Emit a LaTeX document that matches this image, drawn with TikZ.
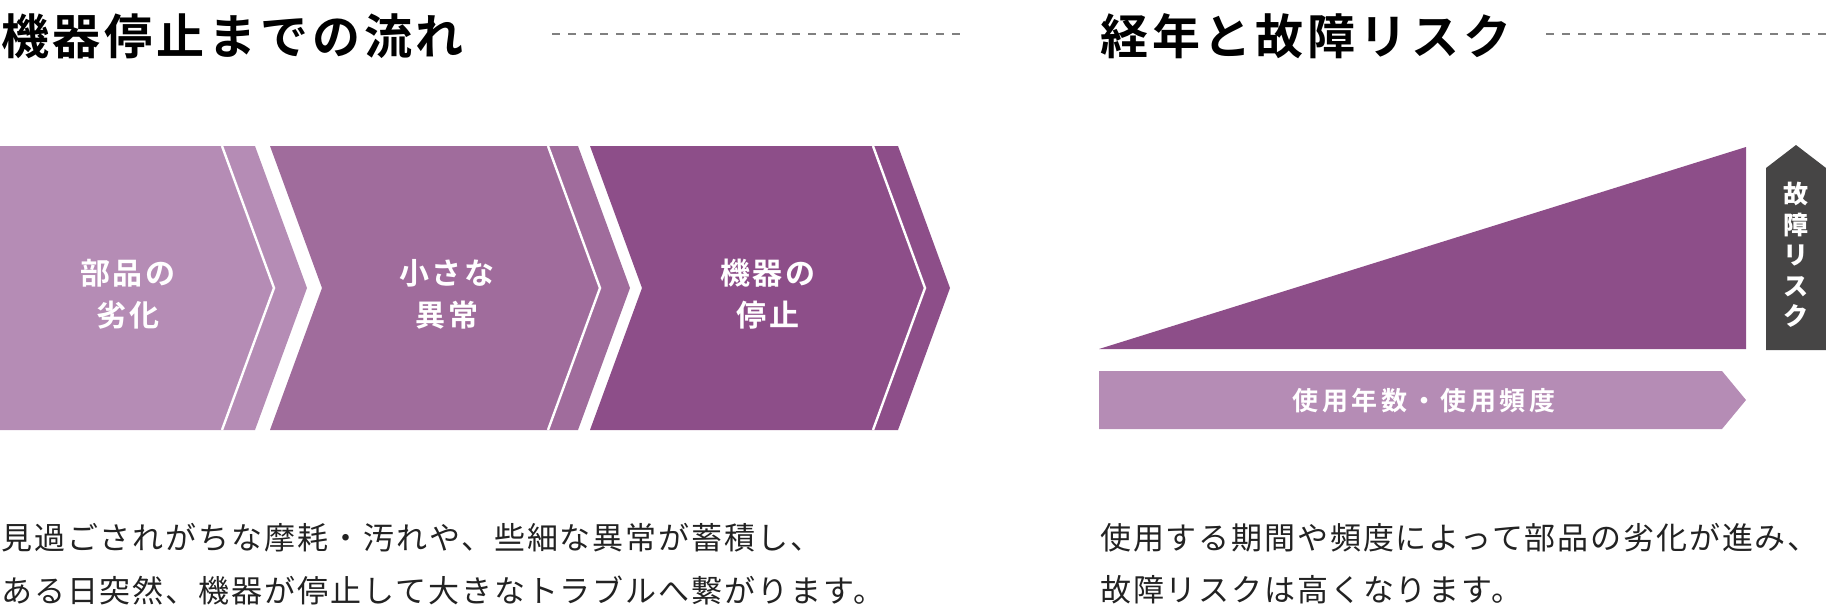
\documentclass[tikz,border=0pt]{standalone}
\usepackage{fontspec}
\setmainfont{Noto Sans CJK JP}
\newfontfamily\hdfont{Noto Sans CJK JP}[UprightFont=* Bold, LetterSpace=8]
\newfontfamily\lbfont{Noto Sans CJK JP}[UprightFont=* Bold, LetterSpace=7]
\newfontfamily\barfont{Noto Sans CJK JP}[UprightFont=* Bold, LetterSpace=14]
\newfontfamily\txfont{Noto Sans CJK JP}[LetterSpace=6.2]
\newfontfamily\txbfont{Noto Sans CJK JP}[LetterSpace=6]
\definecolor{cA}{HTML}{B58CB5}
\definecolor{cB}{HTML}{A06C9C}
\definecolor{cC}{HTML}{8D4E89}
\definecolor{cD}{HTML}{464545}
\definecolor{cT}{HTML}{222222}
\definecolor{cG}{HTML}{808080}
\begin{document}
\begin{tikzpicture}[x=1pt,y=-1pt,
  header/.style={anchor=west,inner sep=0pt,text=black,font=\hdfont\fontsize{48}{56}\selectfont},
  rule/.style={draw=cG,line width=1.6pt,dash pattern=on 8pt off 8pt},
  chevlabel/.style={align=center,inner sep=0pt,text=white,font=\lbfont\fontsize{30}{42}\selectfont},
  body/.style={anchor=west,inner sep=0pt,text=cT,font=\txfont\fontsize{31}{40}\selectfont},
  bodyr/.style={anchor=west,inner sep=0pt,text=cT,font=\txbfont\fontsize{31}{40}\selectfont},
  sep/.style={draw=white,line width=2.4pt}]
\useasboundingbox (0,0) rectangle (1826,614);
% headers
\node[header] (h1) at (1,36) {機器停止までの流れ};
\node[header] (h2) at (1100,36) {経年と故障リスク};
\coordinate (d1a) at (552,34); \coordinate (d1b) at (962,34);
\coordinate (d2a) at (1546,34); \coordinate (d2b) at (1826,34);
\draw[rule] (d1a) -- (d1b);
\draw[rule] (d2a) -- (d2b);
% chevrons
\fill[cA] (0,146) -- (255,146) -- (307,288) -- (255,430) -- (0,430) -- cycle;
\draw[sep] (222,146) -- (274,288) -- (222,430);
\fill[cB] (270,146) -- (578,146) -- (630,288) -- (578,430) -- (270,430) -- (322,288) -- cycle;
\draw[sep] (548,146) -- (600,288) -- (548,430);
\fill[cC] (590,146) -- (898,146) -- (950,288) -- (898,430) -- (590,430) -- (642,288) -- cycle;
\draw[sep] (873,146) -- (925,288) -- (873,430);
\node[chevlabel] (l1) at (128,294) {部品の\\劣化};
\node[chevlabel] (l2) at (447,294) {小さな\\異常};
\node[chevlabel] (l3) at (768,294) {機器の\\停止};
% risk triangle
\fill[cC] (1099,349) -- (1746,147) -- (1746,349) -- cycle;
\fill[cD] (1766,168) -- (1796,145) -- (1826,168) -- (1826,350) -- (1766,350) -- cycle;
\node[inner sep=0pt,align=center,text=white,font=\bfseries\fontsize{25}{30.5}\selectfont] (risk) at (1796,255) {故\\障\\リ\\ス\\ク};
% usage bar
\fill[cA] (1099,371) -- (1722,371) -- (1746,400) -- (1722,429) -- (1099,429) -- cycle;
\node[inner sep=0pt,text=white,font=\barfont\fontsize{26}{30}\selectfont] (use) at (1424,401) {使用年数・使用頻度};
% body text
\node[body] (t1a) at (1,538) {見過ごされがちな摩耗・汚れや、些細な異常が蓄積し、};
\node[body] (t1b) at (1,590) {ある日突然、機器が停止して大きなトラブルへ繋がります。};
\node[bodyr] (t2a) at (1100,538) {使用する期間や頻度によって部品の劣化が進み、};
\node[bodyr] (t2b) at (1100,590) {故障リスクは高くなります。};
\end{tikzpicture}
\end{document}
